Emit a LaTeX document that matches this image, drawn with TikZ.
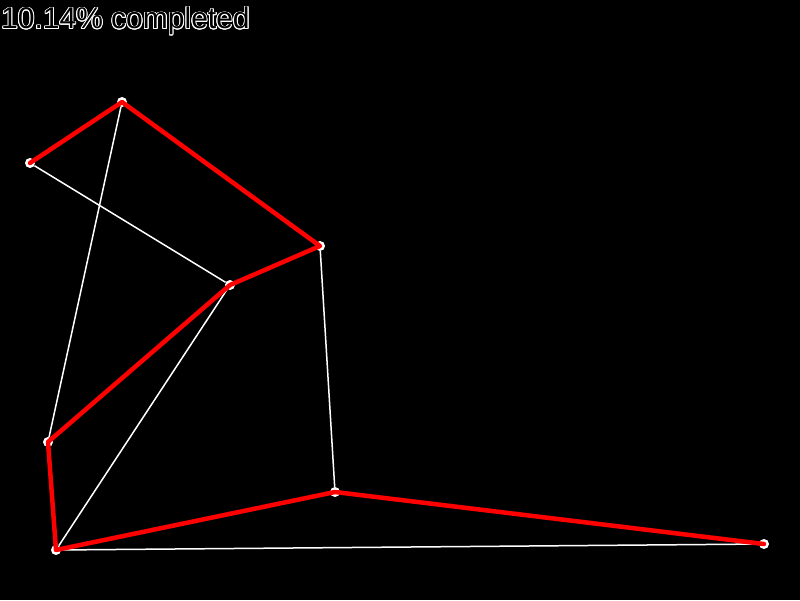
\documentclass[tikz,border=0pt]{standalone}
\usepackage{fontspec}
\usepackage{xcolor}
\usepackage{tikz}
\usepackage{contour}
\usetikzlibrary{positioning,calc}
\setsansfont{Liberation Sans}
\contourlength{0.9pt}

\begin{document}
\begin{tikzpicture}[x=1pt, y=-1pt,
    city/.style={circle, inner sep=0pt, minimum size=10pt},
    tour/.style={red, line width=4.5pt, line cap=round, line join=round},
    link/.style={white, line width=1.5pt}]
  % Background
  \fill[black] (0,0) rectangle (800,600);
  \useasboundingbox (0,0) rectangle (800,600);

  % Cities
  \node[city] (a) at (122,102) {};
  \node[city] (b) at (30,163) {};
  \node[city] (c) at (320,246) {};
  \node[city] (d) at (230,285) {};
  \node[city] (e) at (48,442) {};
  \node[city] (f) at (56,550) {};
  \node[city] (g) at (335,492) {};
  \node[city] (h) at (764,544) {};

  % Other links
  \draw[link] (a) -- (e);
  \draw[link] (b) -- (d);
  \draw[link] (c) -- (g);
  \draw[link] (d) -- (f);
  \draw[link] (f) -- (h);
  \foreach \n in {a,b,c,d,e,f,g,h}
    \fill[white] (\n) circle (5pt);

  % Tour so far
  \draw[tour] (b.center) -- (a.center) -- (c.center) -- (d.center)
    -- (e.center) -- (f.center) -- (g.center) -- (h.center);

  % Progress
  \node[anchor=north west, inner sep=0pt, font=\sffamily\fontsize{30}{33}\selectfont]
    (progress) at (1,7) {\contour{white}{\textcolor{black}{10.14\% completed}}};
\end{tikzpicture}
\end{document}
